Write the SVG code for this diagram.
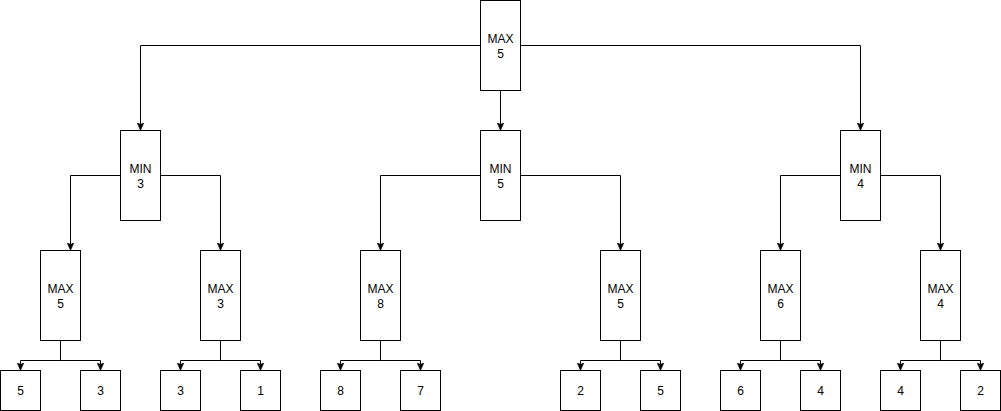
<svg xmlns="http://www.w3.org/2000/svg" width="1001" height="411" viewBox="0 0 1001 411">
<style>
rect{fill:#fff;stroke:#000;stroke-width:1}
text{font-family:"Liberation Sans",Arial,sans-serif;font-size:12px;fill:#000;text-anchor:middle}
.c path{fill:none;stroke:#000;stroke-width:1;marker-end:url(#a)}
</style>
<defs>
<marker id="a" markerUnits="userSpaceOnUse" viewBox="0 0 9 8" markerWidth="9" markerHeight="8" refX="8" refY="4" orient="auto">
<path d="M8,4 L0,0.5 L2,4 L0,7.5 Z" fill="#000" stroke="#000" stroke-width="0.5"/>
</marker>
</defs>
<rect x="0" y="0" width="1001" height="411" style="fill:#fff;stroke:none"/>
<g transform="translate(0.5,0.5)">
<g class="c" id="connectors">
<path d="M480,45 H140 V130"/>
<path d="M500,90 V130"/>
<path d="M520,45 H860 V130"/>
<path d="M120,175 H70 V250"/>
<path d="M160,175 H220 V250"/>
<path d="M480,175 H380 V250"/>
<path d="M520,175 H620 V250"/>
<path d="M840,175 H780 V250"/>
<path d="M880,175 H940 V250"/>
<path d="M60,340 V360 H20 V370"/>
<path d="M60,340 V360 H100 V370"/>
<path d="M220,340 V360 H180 V370"/>
<path d="M220,340 V360 H260 V370"/>
<path d="M380,340 V360 H340 V370"/>
<path d="M380,340 V360 H420 V370"/>
<path d="M620,340 V360 H580 V370"/>
<path d="M620,340 V360 H660 V370"/>
<path d="M780,340 V360 H740 V370"/>
<path d="M780,340 V360 H820 V370"/>
<path d="M940,340 V360 H900 V370"/>
<path d="M940,340 V360 H980 V370"/>
</g>
<g id="root"><rect x="480" y="0" width="40" height="90"/><text x="500" y="42.5">MAX</text><text x="500" y="57">5</text></g>
<g id="min1"><rect x="120" y="130" width="40" height="90"/><text x="140" y="172.5">MIN</text><text x="140" y="187">3</text></g>
<g id="min2"><rect x="480" y="130" width="40" height="90"/><text x="500" y="172.5">MIN</text><text x="500" y="187">5</text></g>
<g id="min3"><rect x="840" y="130" width="40" height="90"/><text x="860" y="172.5">MIN</text><text x="860" y="187">4</text></g>
<g id="max1"><rect x="40" y="250" width="40" height="90"/><text x="60" y="292.5">MAX</text><text x="60" y="307">5</text></g>
<g id="max2"><rect x="200" y="250" width="40" height="90"/><text x="220" y="292.5">MAX</text><text x="220" y="307">3</text></g>
<g id="max3"><rect x="360" y="250" width="40" height="90"/><text x="380" y="292.5">MAX</text><text x="380" y="307">8</text></g>
<g id="max4"><rect x="600" y="250" width="40" height="90"/><text x="620" y="292.5">MAX</text><text x="620" y="307">5</text></g>
<g id="max5"><rect x="760" y="250" width="40" height="90"/><text x="780" y="292.5">MAX</text><text x="780" y="307">6</text></g>
<g id="max6"><rect x="920" y="250" width="40" height="90"/><text x="940" y="292.5">MAX</text><text x="940" y="307">4</text></g>
<g id="leaf1"><rect x="0" y="370" width="40" height="40"/><text x="20" y="394.3">5</text></g>
<g id="leaf2"><rect x="80" y="370" width="40" height="40"/><text x="100" y="394.3">3</text></g>
<g id="leaf3"><rect x="160" y="370" width="40" height="40"/><text x="180" y="394.3">3</text></g>
<g id="leaf4"><rect x="240" y="370" width="40" height="40"/><text x="260" y="394.3">1</text></g>
<g id="leaf5"><rect x="320" y="370" width="40" height="40"/><text x="340" y="394.3">8</text></g>
<g id="leaf6"><rect x="400" y="370" width="40" height="40"/><text x="420" y="394.3">7</text></g>
<g id="leaf7"><rect x="560" y="370" width="40" height="40"/><text x="580" y="394.3">2</text></g>
<g id="leaf8"><rect x="640" y="370" width="40" height="40"/><text x="660" y="394.3">5</text></g>
<g id="leaf9"><rect x="720" y="370" width="40" height="40"/><text x="740" y="394.3">6</text></g>
<g id="leaf10"><rect x="800" y="370" width="40" height="40"/><text x="820" y="394.3">4</text></g>
<g id="leaf11"><rect x="880" y="370" width="40" height="40"/><text x="900" y="394.3">4</text></g>
<g id="leaf12"><rect x="960" y="370" width="40" height="40"/><text x="980" y="394.3">2</text></g>
</g>
</svg>
